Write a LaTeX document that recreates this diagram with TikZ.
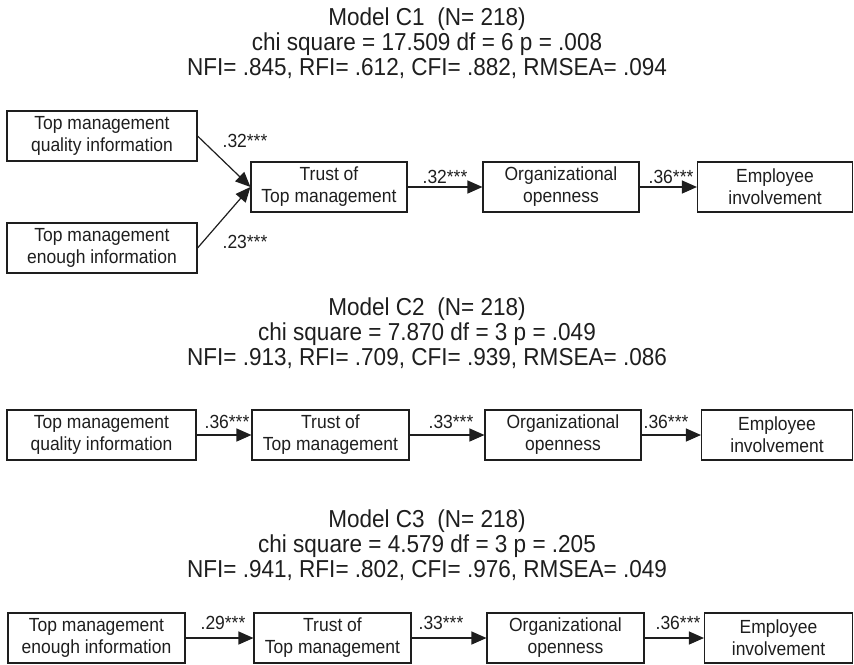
\documentclass[tikz,border=0pt]{standalone}
\usepackage{fontspec}
\setmainfont{Liberation Sans}[FakeStretch=0.92]
\usetikzlibrary{arrows.meta}
\definecolor{ink}{HTML}{1E1E1E}
\begin{document}
\begin{tikzpicture}[x=1pt,y=-1pt,
  box/.style={draw=ink,line width=1.1pt,inner sep=0pt,align=center,text=ink,
    font=\fontsize{19}{22}\selectfont,minimum height=50pt},
  lbl/.style={font=\fontsize{19}{22}\selectfont,anchor=base,inner sep=0pt,text=ink},
  ttl/.style={font=\fontsize{24.5}{26}\selectfont,anchor=base,inner sep=0pt,text=ink},
  arr/.style={draw=ink,line width=1.2pt,-{Triangle[length=15pt,width=13pt]}}]
\useasboundingbox (0,0) rectangle (854,664);

% ---------- Model C1 ----------
\node[ttl] (c1a) at (427,25) {Model C1~~(N= 218)};
\node[ttl] (c1b) at (427,50) {chi square = 17.509 df = 6 p = .008};
\node[ttl] (c1c) at (427,75) {NFI= .845, RFI= .612, CFI= .882, RMSEA= .094};

\node[box,minimum width=190pt] (q1) at (102,136) {Top management\\quality information};
\node[box,minimum width=190pt] (e1) at (102,248) {Top management\\enough information};
\node[box,minimum width=156pt] (t1) at (329,187) {Trust of\\Top management};
\node[box,minimum width=156pt] (o1) at (561,187) {Organizational\\openness};
\node[box,minimum width=155pt] (m1) at (775,187) {Employee\\involvement};

\draw[arr] (q1.east) -- (t1.west);
\draw[arr] (e1.east) -- (t1.west);
\draw[arr] (t1) -- (o1);
\draw[arr] (o1) -- (m1);

\node[lbl] (l1a) at (245,147) {.32***};
\node[lbl] (l1b) at (245,248) {.23***};
\node[lbl] (l1c) at (445,183) {.32***};
\node[lbl] (l1d) at (671,183) {.36***};

% ---------- Model C2 ----------
\node[ttl] (c2a) at (427,315) {Model C2~~(N= 218)};
\node[ttl] (c2b) at (427,340) {chi square = 7.870 df = 3 p = .049};
\node[ttl] (c2c) at (427,365) {NFI= .913, RFI= .709, CFI= .939, RMSEA= .086};

\node[box,minimum width=189pt] (q2) at (101.5,435) {Top management\\quality information};
\node[box,minimum width=157pt] (t2) at (330.5,435) {Trust of\\Top management};
\node[box,minimum width=156pt] (o2) at (563,435) {Organizational\\openness};
\node[box,minimum width=151pt] (m2) at (777,435) {Employee\\involvement};

\draw[arr] (q2) -- (t2);
\draw[arr] (t2) -- (o2);
\draw[arr] (o2) -- (m2);

\node[lbl] (l2a) at (227,428) {.36***};
\node[lbl] (l2b) at (451,428) {.33***};
\node[lbl] (l2c) at (666,428) {.36***};

% ---------- Model C3 ----------
\node[ttl] (c3a) at (427,527) {Model C3~~(N= 218)};
\node[ttl] (c3b) at (427,552) {chi square = 4.579 df = 3 p = .205};
\node[ttl] (c3c) at (427,577) {NFI= .941, RFI= .802, CFI= .976, RMSEA= .049};

\node[box,minimum width=177pt] (q3) at (96.5,638) {Top management\\enough information};
\node[box,minimum width=157pt] (t3) at (332.5,638) {Trust of\\Top management};
\node[box,minimum width=157pt] (o3) at (565.5,638) {Organizational\\openness};
\node[box,minimum width=148pt] (m3) at (778.5,638) {Employee\\involvement};

\draw[arr] (q3) -- (t3);
\draw[arr] (t3) -- (o3);
\draw[arr] (o3) -- (m3);

\node[lbl] (l3a) at (223,629) {.29***};
\node[lbl] (l3b) at (441,629) {.33***};
\node[lbl] (l3c) at (678,629) {.36***};
\end{tikzpicture}
\end{document}
